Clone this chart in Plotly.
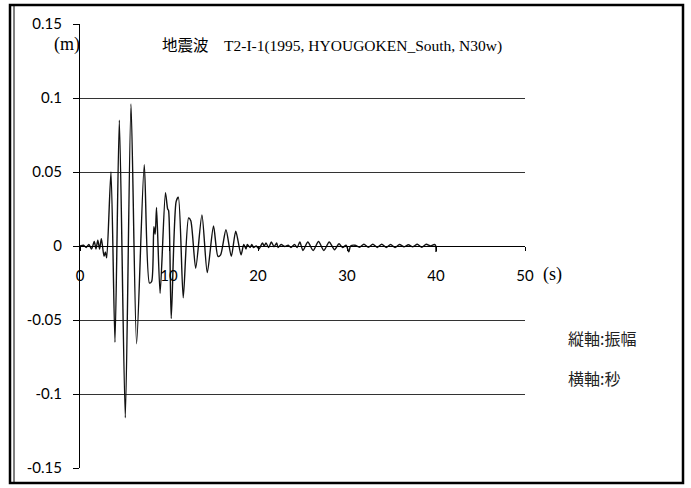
import plotly.graph_objects as go

# ---- data ----
time_s = [0.0, 0.4, 0.7, 1.0, 1.3, 1.6, 1.8, 2.0, 2.2, 2.4, 2.7, 2.85, 3.0,
          3.48, 3.93, 4.42, 5.09, 5.73, 6.36, 7.22, 7.8, 8.05, 8.3, 8.45, 8.6,
          9.0, 9.6, 9.85, 9.95, 10.25, 10.8, 11.05, 11.6, 12.2, 12.45, 13.0,
          13.7, 14.3, 15.0, 15.5, 15.8, 16.4, 17.0, 17.5, 18.1,
          18.4, 18.65, 18.8, 19.1, 19.3, 19.5, 19.8, 20.1, 20.5, 20.7, 20.9,
          21.2, 21.5, 21.8, 22.1, 22.25, 22.6, 23.0, 23.4, 23.7, 24.1, 24.4,
          24.7, 25.05, 25.6, 26.2, 26.8, 27.4, 28.0, 28.6, 29.1, 29.5, 29.9,
          30.2, 30.4, 30.9, 31.4, 31.9, 32.4, 32.9, 33.4, 33.9, 34.4, 34.9,
          35.4, 35.9, 36.4, 36.9, 37.4, 37.9, 38.4, 38.9, 39.4, 39.8, 39.95, 40.0]
amplitude_m = [0.0, 0.0005, -0.001, 0.001, -0.002, 0.003, -0.002, 0.004, -0.002, 0.005, -0.007, -0.004, -0.008,
               0.050, -0.065, 0.085, -0.116, 0.096, -0.066, 0.055, -0.025, -0.024, 0.013, 0.008, 0.026,
               -0.032, 0.036, 0.025, 0.024, -0.049, 0.030, 0.033, -0.035, 0.019, 0.017, -0.015,
               0.021, -0.018, 0.0135, -0.007, -0.006, 0.011, -0.007, 0.010, -0.006,
               0.001, -0.002, 0.001, -0.001, 0.001, -0.001, 0.0, -0.002, 0.002, 0.0, 0.002,
               -0.001, 0.0027, -0.0005, 0.002, -0.001, 0.001, -0.0003, 0.0005, -0.001, 0.001, -0.001,
               0.0027, -0.003, 0.0027, -0.003, 0.003, -0.003, 0.0027, -0.0025, 0.0015, -0.001, 0.0005,
               -0.004, 0.0, 0.0005, -0.0008, 0.0012, -0.0008, 0.0012, -0.001, 0.0012, -0.001, 0.001,
               -0.001, 0.001, -0.0005, 0.0008, -0.0005, 0.0012, -0.0008, 0.0012, 0.0, 0.001, 0.0005, -0.004]

x_ticks = [0, 10, 20, 30, 40, 50]
y_ticks = [-0.15, -0.1, -0.05, 0, 0.05, 0.1, 0.15]
y_tick_text = ["-0.15", "-0.1", "-0.05", "0", "0.05", "0.1", "0.15"]

title_text = "地震波　T2-I-1(1995, HYOUGOKEN_South, N30w)"
unit_y = "(m)"
unit_x = "(s)"
note1 = "縦軸:振幅"
note2 = "横軸:秒"

serif = "Liberation Serif, Noto Sans CJK JP, serif"
sans_cjk = "Noto Sans CJK JP, sans-serif"
tick_font = "Lato, Open Sans, sans-serif"

L, R, T, B = 80, 525, 24, 468  # plot-area pixel edges
W, H = R - L, B - T


def px(xp):
    return (xp - L) / W


def py(yp):
    return (B - yp) / H


fig = go.Figure()
fig.add_trace(go.Scatter(
    x=time_s, y=amplitude_m, mode="lines",
    line=dict(color="#111111", width=1.4, shape="spline", smoothing=0.7),
    showlegend=False, hoverinfo="skip"))

fig.update_layout(
    width=691, height=488,
    paper_bgcolor="white", plot_bgcolor="white",
    margin=dict(l=L, r=691 - R, t=T, b=488 - B),
    xaxis=dict(range=[0, 50], tickvals=x_ticks, ticktext=[str(v) for v in x_ticks],
               showgrid=False, zeroline=False, showline=True, linecolor="black", linewidth=1,
               anchor="free", position=0.5, ticks="outside", ticklen=4, tickcolor="black",
               ticklabelstandoff=12,
               tickfont=dict(family=tick_font, size=15, color="black")),
    yaxis=dict(range=[-0.15, 0.15], tickvals=y_ticks, ticktext=y_tick_text,
               showgrid=True, gridcolor="#333333", gridwidth=1, zeroline=False,
               showline=True, linecolor="black", linewidth=1,
               ticks="outside", ticklen=6, tickcolor="black", ticklabelstandoff=8,
               tickfont=dict(family=tick_font, size=15, color="black")),
    annotations=[
        dict(text=unit_y, xref="paper", yref="paper", x=px(67), y=py(45),
             xanchor="center", yanchor="middle",
             showarrow=False, font=dict(family=serif, size=18, color="black")),
        dict(text=title_text, xref="paper", yref="paper", x=px(332), y=py(46),
             xanchor="center", yanchor="middle",
             showarrow=False, font=dict(family=serif, size=15.5, color="black")),
        dict(text=unit_x, xref="paper", yref="paper", x=px(552), y=py(274),
             xanchor="center", yanchor="middle",
             showarrow=False, font=dict(family=serif, size=18, color="black")),
        dict(text=note1, xref="paper", yref="paper", x=px(566), y=py(338),
             xanchor="left", yanchor="middle", showarrow=False,
             font=dict(family=sans_cjk, size=16, color="#222222")),
        dict(text=note2, xref="paper", yref="paper", x=px(566), y=py(378),
             xanchor="left", yanchor="middle", showarrow=False,
             font=dict(family=sans_cjk, size=16, color="#222222")),
    ],
    shapes=[
        dict(type="rect", xref="paper", yref="paper",
             x0=px(10), x1=px(683), y0=py(483), y1=py(5),
             line=dict(color="black", width=2.5), fillcolor="rgba(0,0,0,0)", layer="above"),
        dict(type="line", xref="paper", yref="paper",
             x0=px(14), x1=px(14), y0=py(483), y1=py(5),
             line=dict(color="black", width=1)),
    ],
)

fig.write_html("out.html", config={"displayModeBar": False},
               post_script="document.body.style.margin='0';document.body.style.overflow='hidden';")
